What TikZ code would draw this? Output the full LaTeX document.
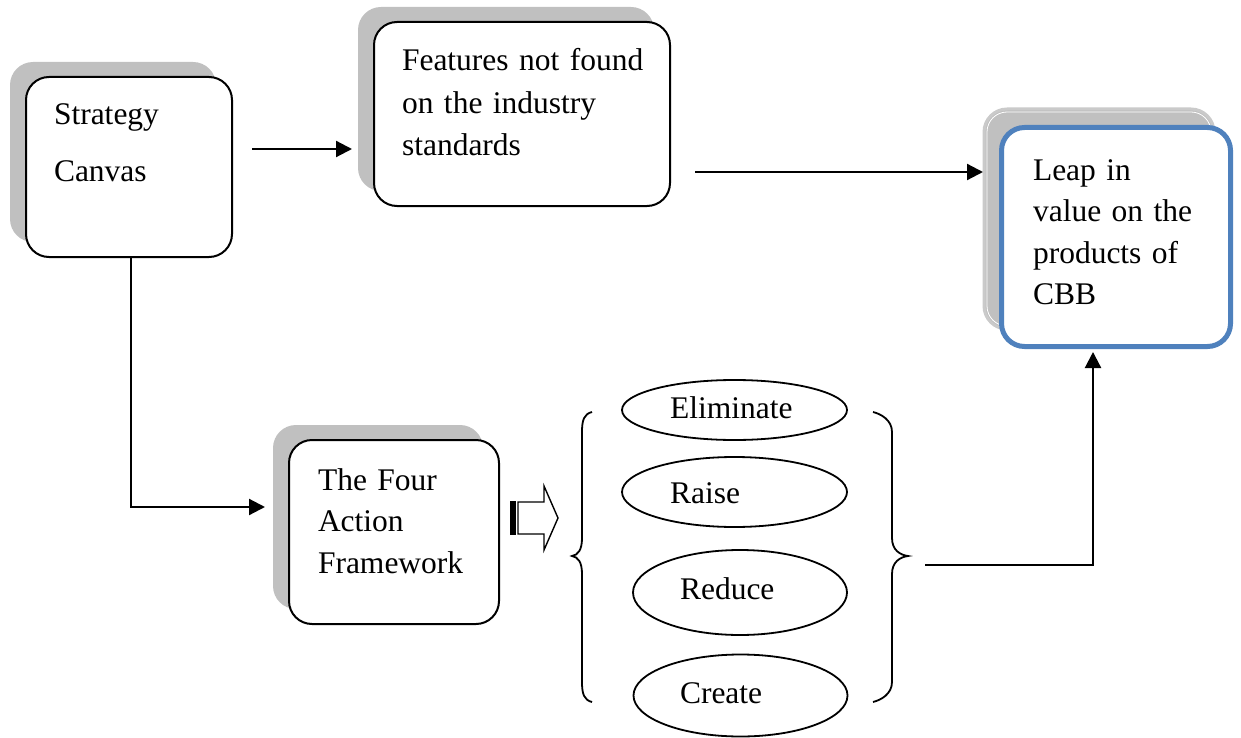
\documentclass[tikz,border=0pt]{standalone}
\usepackage{fontspec}
\setmainfont{Liberation Serif}
\usetikzlibrary{arrows.meta,shapes.geometric}
\definecolor{shadowgray}{HTML}{C0C0C0}
\definecolor{shadowedge}{HTML}{CACACA}
\definecolor{boxblue}{HTML}{4F81BD}
\newcommand\bigtext{\fontsize{31.5}{42.5}\selectfont}
\tikzset{
  mainbox/.style={draw=black, line width=2pt, fill=white, rounded corners=23pt, anchor=north west, inner sep=0pt, outer sep=0pt},
  shadowbox/.style={fill=shadowgray, rounded corners=23pt, anchor=north west, inner sep=0pt, outer sep=0pt},
  txt/.style={font=\bigtext, anchor=base west, inner sep=0pt, outer sep=0pt, align=left},
  arr/.style={line width=2.2pt, -{Triangle[length=16pt,width=16pt]}},
  oval/.style={draw=black, ellipse, line width=1.8pt, inner sep=0pt, outer sep=0pt},
  bracestyle/.style={line width=1.8pt},
}
\begin{document}
\begin{tikzpicture}[x=1pt,y=-1pt]
\useasboundingbox (0,0) rectangle (1241,738);

% Strategy Canvas
\node[shadowbox, minimum width=206pt, minimum height=180pt] (scs) at (10,62) {};
\node[mainbox, minimum width=206pt, minimum height=180pt] (sc) at (26,77) {};
\node[txt, text width=170pt] (sct) at (54,125) {Strategy\\[14.5pt]Canvas};

% Features
\node[shadowbox, minimum width=296pt, minimum height=184pt] (fes) at (358,7) {};
\node[mainbox, minimum width=296pt, minimum height=184pt] (fe) at (374,22) {};
\node[txt, text width=260pt] (fet) at (402,71) {Features not found\\on the industry\\standards};

% Leap in value
\node[shadowbox, draw=shadowedge, line width=3pt, minimum width=230pt, minimum height=220pt] (cbs) at (984,109) {};
\draw[white, line width=0.8pt, rounded corners=20pt] (987,112) rectangle (1211,326);
\node[mainbox, draw=boxblue, line width=5pt, minimum width=229pt, minimum height=219pt] (cbb) at (1001.5,127.5) {};
\node[txt, text width=190pt, font=\fontsize{31.5}{41.5}\selectfont] (cbbt) at (1033,180) {Leap in\\value on the\\products of\\CBB};

% Four Action Framework
\node[shadowbox, minimum width=210pt, minimum height=184pt] (fas) at (273,425) {};
\node[mainbox, minimum width=210pt, minimum height=184pt] (fa) at (289,440) {};
\node[txt, text width=180pt, font=\fontsize{31.5}{41.5}\selectfont] (fat) at (318,490) {The Four\\Action\\Framework};

% hollow arrow
\fill[black] (510,501) rectangle (515.5,535);
\draw[line width=1.4pt, fill=white, line join=miter] (518,502) -- (544,502) -- (544,486) -- (558,518) -- (544,550) -- (544,534) -- (518,534) -- cycle;

% ellipses
\node[oval, minimum width=225pt, minimum height=60pt] (el) at (734.5,410) {};
\node[oval, minimum width=225pt, minimum height=70pt] (ra) at (734.5,492) {};
\node[oval, minimum width=214pt, minimum height=85pt] (re) at (740,592.5) {};
\node[oval, minimum width=214pt, minimum height=82pt] (cr) at (740.5,695.5) {};
\node[txt] (elt) at (670,418) {Eliminate};
\node[txt] (rat) at (670,503) {Raise};
\node[txt] (ret) at (680,599) {Reduce};
\node[txt] (crt) at (680,703) {Create};

% braces
\draw[bracestyle] (592,412) .. controls (584,414) and (582,420) .. (582,432) -- (582,538) .. controls (582,550) and (578,555) .. (572,556) .. controls (578,557) and (582,562) .. (582,574) -- (582,682) .. controls (582,694) and (584,700) .. (592,702);
\draw[bracestyle] (873,412) .. controls (881,414) and (892,420) .. (892,432) -- (892,538) .. controls (892,550) and (900,555) .. (908,556) .. controls (900,557) and (892,562) .. (892,574) -- (892,682) .. controls (892,694) and (881,700) .. (873,702);

% connectors
\coordinate (a1s) at (252,149);
\coordinate (a1e) at (352,149);
\draw[arr] (a1s) -- (a1e);
\coordinate (a2s) at (695,172);
\coordinate (a2e) at (983,172);
\draw[arr] (a2s) -- (a2e);
\coordinate (fain) at (265,507);
\draw[arr] (sc.south -| 131,0) |- (fain);
\coordinate (rbout) at (925,565);
\coordinate (cbbin) at (1093,352);
\draw[arr] (rbout) -| (cbbin);
\end{tikzpicture}
\end{document}
